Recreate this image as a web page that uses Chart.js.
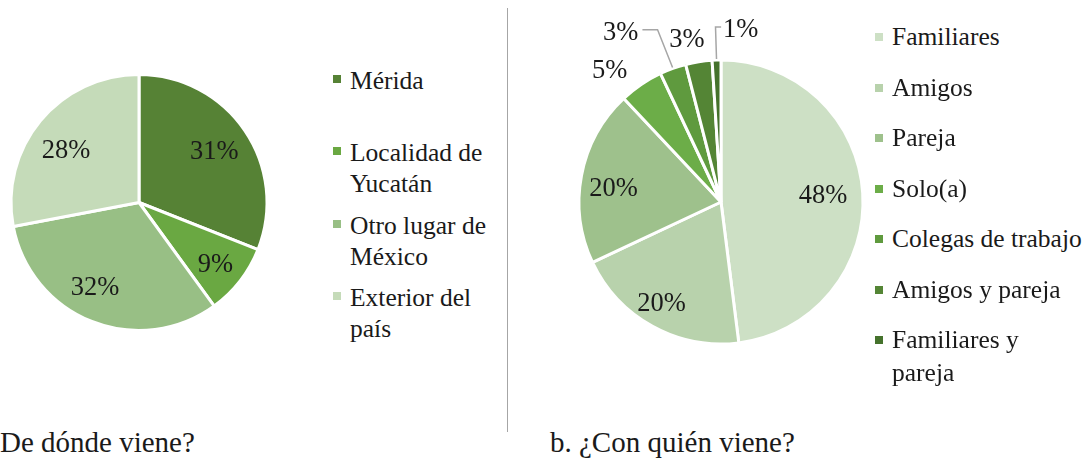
<!DOCTYPE html>
<html>
<head>
<meta charset="utf-8">
<script src="https://cdn.jsdelivr.net/npm/chart.js"></script>
<style>
body{margin:0;background:#fff;width:1086px;height:461px;overflow:hidden;position:relative;color:#1a1a1a}
canvas{position:absolute;top:0}
#graficoOrigem{left:0}
#graficoCompanhia{left:560px}
.legenda{position:absolute;font-family:"Liberation Serif"}
.item{position:absolute;left:0;white-space:nowrap}
.q{position:absolute;width:8px;height:8px}
#divisoria{position:absolute;left:507px;top:8px;width:1px;height:424px;background:#a6a6a6}
.rodape{position:absolute;top:426px;font-size:29px;line-height:32px;white-space:nowrap;font-family:"Liberation Serif"}
</style>
</head>
<body>
<canvas id="graficoOrigem" width="300" height="410"></canvas>
<canvas id="graficoCompanhia" width="320" height="410"></canvas>
<div id="legendaOrigem" class="legenda" style="left:350px;top:65px;font-size:25.5px;line-height:31px"></div>
<div id="legendaCompanhia" class="legenda" style="left:892px;top:20px;font-size:25.5px;line-height:33px"></div>
<div id="divisoria"></div>
<div class="rodape" style="left:0">De dónde viene?</div>
<div class="rodape" style="left:550px">b. ¿Con quién viene?</div>
<script>
// dados
const categoriasOrigem = ['Mérida', ['Localidad de', 'Yucatán'], ['Otro lugar de', 'México'], ['Exterior del', 'país']]
const valoresOrigem = [31, 9, 32, 28]
const coresOrigem = ['#568235', '#6aa842', '#98bf85', '#c5dbb9']

const categoriasCompanhia = ['Familiares', 'Amigos', 'Pareja', 'Solo(a)', 'Colegas de trabajo', 'Amigos y pareja', ['Familiares y', 'pareja']]
const valoresCompanhia = [48, 20, 20, 5, 3, 3, 1]
const coresCompanhia = ['#cde0c5', '#b8d2ac', '#9ec18c', '#6cad48', '#5f9a3e', '#548535', '#45722c']

Chart.defaults.font.family = '"Liberation Serif"'

const pluginRotulos = {
  id: 'rotulos',
  afterDatasetsDraw(chart, args, opts) {
    const ctx = chart.ctx
    const meta = chart.getDatasetMeta(0)
    const dados = chart.data.datasets[0].data
    ctx.save()
    ctx.font = '26.5px "Liberation Serif"'
    ctx.fillStyle = '#1a1a1a'
    ctx.textAlign = 'center'
    ctx.textBaseline = 'middle'
    meta.data.forEach((arco, i) => {
      const p = arco.getProps(['x', 'y', 'startAngle', 'endAngle', 'outerRadius'], true)
      const meio = (p.startAngle + p.endAngle) / 2
      const texto = dados[i] + '%'
      const fora = opts.fora ? opts.fora[i] : null
      if (!fora) {
        const d = p.outerRadius * opts.distancia[i]
        const n = opts.desvio[i]
        ctx.fillText(texto, p.x + Math.cos(meio) * d + n[0], p.y + Math.sin(meio) * d + n[1])
        return
      }
      const d = p.outerRadius + 24
      const tx = p.x + Math.cos(meio) * d + fora.dx
      const ty = p.y + Math.sin(meio) * d + fora.dy
      ctx.fillText(texto, tx, ty)
      if (fora.cotovelo != null) {
        const ex = p.x + Math.cos(meio) * (p.outerRadius + 1)
        const ey = p.y + Math.sin(meio) * (p.outerRadius + 1)
        const w = ctx.measureText(texto).width
        const lado = tx < ex ? tx + w / 2 + 4 : tx - w / 2 - 2
        ctx.strokeStyle = '#a6a6a6'
        ctx.lineWidth = 1.5
        ctx.beginPath()
        ctx.moveTo(ex, ey)
        ctx.lineTo(ex + fora.cotovelo, ty - 3)
        ctx.lineTo(lado, ty - 3)
        ctx.stroke()
      }
    })
    ctx.restore()
  }
}

function criarPizza(id, labels, valores, cores, padding, rotulos) {
  return new Chart(document.getElementById(id), {
    type: 'pie',
    data: {
      labels: labels,
      datasets: [{
        data: valores,
        backgroundColor: cores,
        borderColor: '#ffffff',
        borderWidth: 3
      }]
    },
    options: {
      responsive: false,
      animation: false,
      events: [],
      layout: { padding: padding },
      plugins: {
        legend: { display: false },
        tooltip: { enabled: false },
        rotulos: rotulos
      }
    },
    plugins: [pluginRotulos]
  })
}

function montarLegenda(id, labels, cores, passo, ladoQ, topoQ) {
  const caixa = document.getElementById(id)
  labels.forEach((lab, i) => {
    const item = document.createElement('div')
    item.className = 'item'
    item.style.top = (i * passo) + 'px'
    const linhas = Array.isArray(lab) ? lab : [lab]
    item.innerHTML = linhas.join('<br>')
    const q = document.createElement('span')
    q.className = 'q'
    q.style.background = cores[i]
    q.style.left = ladoQ + 'px'
    q.style.top = topoQ + 'px'
    item.appendChild(q)
    caixa.appendChild(item)
  })
}

montarLegenda('legendaOrigem', categoriasOrigem, coresOrigem, 72.3, -17, 10)
montarLegenda('legendaCompanhia', categoriasCompanhia, coresCompanhia, 50.5, -17, 13)

var graficoOrigem, graficoCompanhia
function desenhar() {
  graficoOrigem = criarPizza('graficoOrigem', categoriasOrigem, valoresOrigem, coresOrigem,
    { left: 9.5, top: 73, right: 31.5, bottom: 78 },
    {
      distancia: [0.71, 0.755, 0.74, 0.7],
      desvio: [[0, 1], [0, 3], [-9, -3], [-4, 6]]
    })

  graficoCompanhia = criarPizza('graficoCompanhia', categoriasCompanhia, valoresCompanhia, coresCompanhia,
    { left: 17.5, top: 58.5, right: 15.5, bottom: 64.5 },
    {
      distancia: [0.72, 0.81, 0.77],
      desvio: [[0, 0], [-4, 1], [0, 8]],
      fora: [null, null, null,
        { dx: -18, dy: 6 },
        { dx: -44, dy: -13, cotovelo: -15 },
        { dx: -8, dy: 2 },
        { dx: 25, dy: -6, cotovelo: -1 }]
    })
}
document.fonts.load('25px "Liberation Serif"').then(desenhar, desenhar)
</script>
</body>
</html>
